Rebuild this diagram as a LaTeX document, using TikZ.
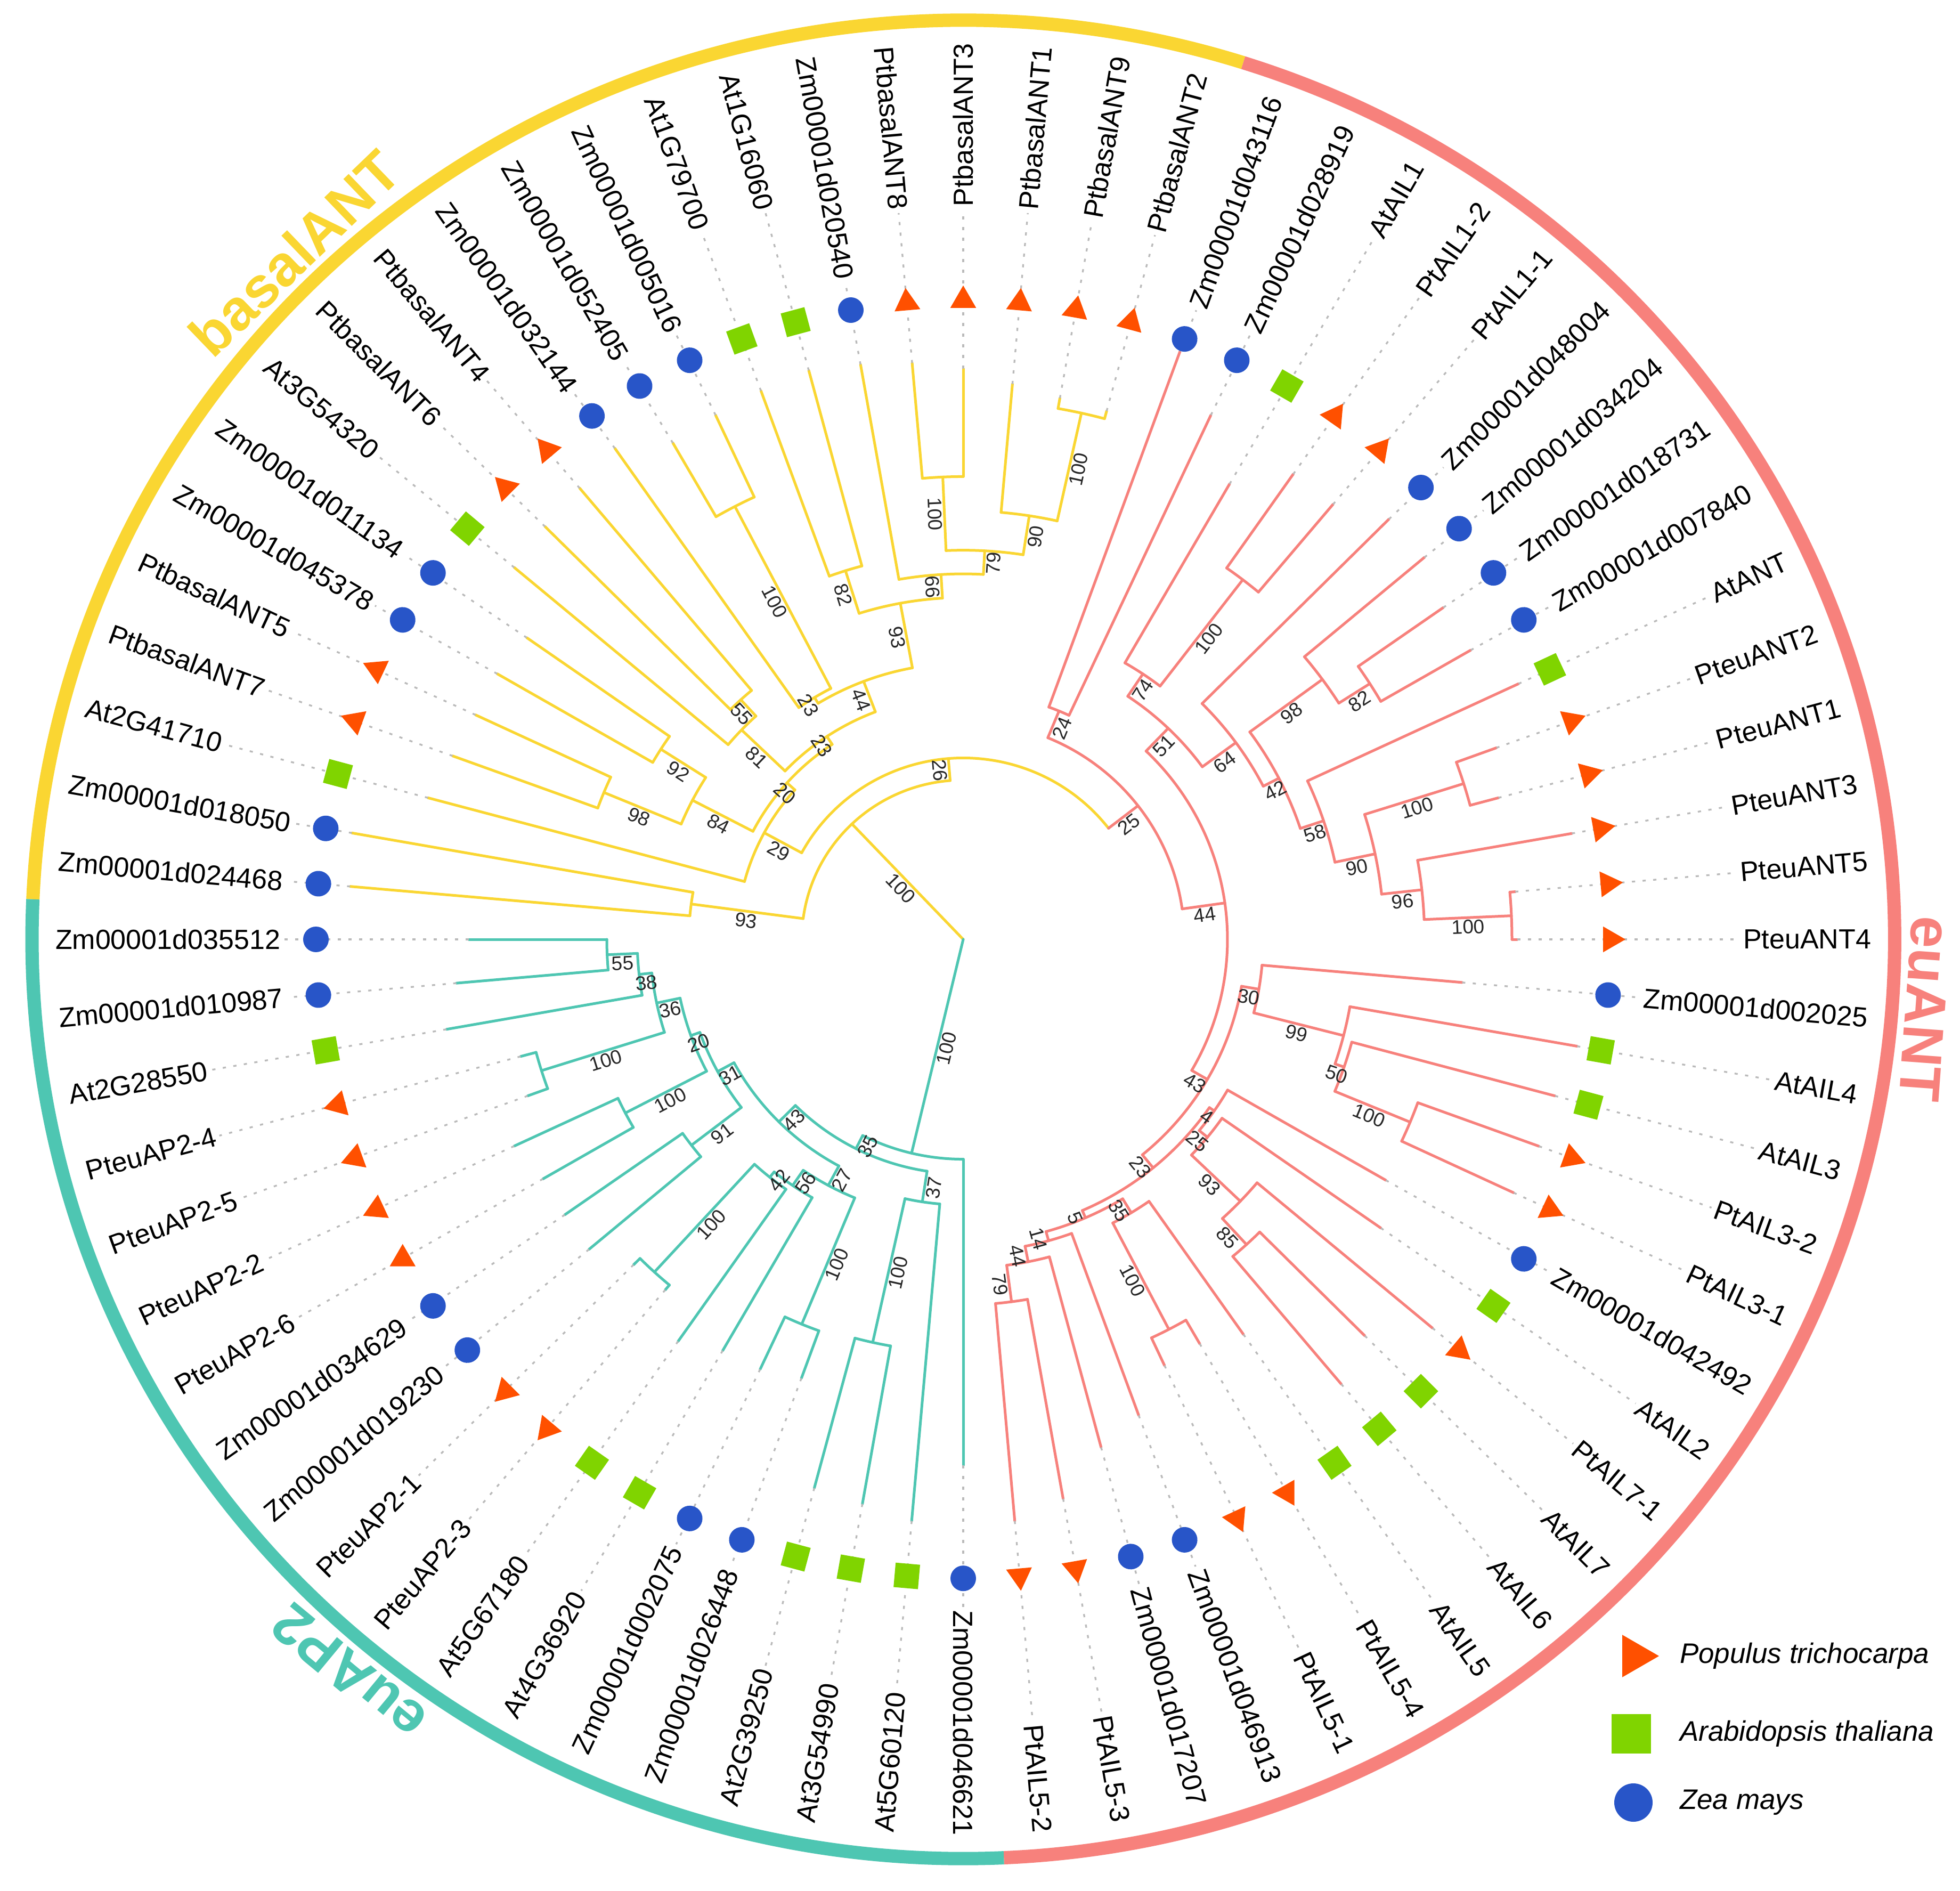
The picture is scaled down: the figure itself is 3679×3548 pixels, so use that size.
\documentclass[tikz,border=0pt]{standalone}
\usepackage{fontspec}
\setmainfont{Liberation Sans}
\usetikzlibrary{shapes.geometric}
\definecolor{yelc}{HTML}{FAD632}
\definecolor{pinc}{HTML}{F7817C}
\definecolor{tealc}{HTML}{4EC6B2}
\definecolor{popc}{HTML}{FF5000}
\definecolor{arac}{HTML}{80D400}
\definecolor{zeac}{HTML}{2855C8}
\tikzset{
  ybr/.style={draw=yelc, line width=0.5pt, line cap=round},
  rbr/.style={draw=pinc, line width=0.5pt, line cap=round},
  tbr/.style={draw=tealc, line width=0.5pt, line cap=round},
  dotl/.style={draw=black!27, line width=0.33pt, dash pattern=on 0.6pt off 1.4pt},
  lbl/.style={font=\fontsize{5.2}{6}\selectfont, inner sep=0.5pt, text=black},
  bst/.style={font=\fontsize{3.7}{4}\selectfont, inner sep=0.25pt, text=black!85},
  clad/.style={font=\fontsize{10.8}{12}\selectfont\bfseries, inner sep=0pt},
  mP/.style={regular polygon, regular polygon sides=3, fill=popc, inner sep=0pt, minimum size=5.6pt},
  mA/.style={rectangle, fill=arac, inner sep=0pt, minimum size=4.6pt},
  mZ/.style={circle, fill=zeac, inner sep=0pt, minimum size=4.8pt},
  legt/.style={font=\itshape\fontsize{5.3}{6}\selectfont, inner sep=0.5pt, anchor=west}
}
% bootstrap value: angle, r1, r2, text
\newcommand\bsv[4]{%
  \pgfmathsetmacro\Tmid{(#2+#3)/2}%
  \pgfmathtruncatemacro\Tside{((#1)>-90.5)&&((#1)<90.5)}%
  \ifnum\Tside=1 \pgfmathsetmacro\Trot{#1}\else\pgfmathsetmacro\Trot{#1+180}\fi
  \node[bst, rotate=\Trot, anchor=north] at (#1:\Tmid) {#4};%
}
% internal node: style, angle, parent r, r, arc a1, arc a2, label
\newcommand\inod[7]{%
  \draw[#1] (#2:#3) -- (#2:#4);
  \draw[#1] (#5:#4) arc[start angle=#5, end angle=#6, radius=#4];
  \bsv{#2}{#3}{#4}{#7}%
}
% leaf: index, parent r, tip r, style, marker, text
\newcommand\tleaf[6]{%
  \pgfmathsetmacro\Lang{180-5*#1}%
  \pgfmathtruncatemacro\Lside{(\Lang>-90.5)&&(\Lang<90.5)}%
  \pgfmathsetmacro\Lmk{\Lang-90}%
  \draw[#4] (\Lang:#2) -- (\Lang:#3);
  \coordinate (T#1) at (\Lang:#3);
  \ifnum\Lside=1
    \node[lbl, rotate=\Lang, anchor=east] (L#1) at (\Lang:1711) {#6};
    \draw[dotl] (T#1) -- (L#1.west);
  \else
    \pgfmathsetmacro\Lrot{\Lang+180}%
    \node[lbl, rotate=\Lrot, anchor=west] (L#1) at (\Lang:1711) {#6};
    \draw[dotl] (T#1) -- (L#1.east);
  \fi
  \node[#5, rotate=\Lmk] (M#1) at (\Lang:1215) {};
}
\begin{document}
\begin{tikzpicture}[x=0.1pt,y=0.1pt]
\useasboundingbox (0,0) rectangle (3679,3548);
\fill[white] (0,0) rectangle (3679,3548);
\begin{scope}[shift={(1808,1785)}, yscale=0.987]
% ring
\draw[line width=2.5pt, yelc] (177.5:1748) arc[start angle=177.5, end angle=72.5, radius=1748];
\draw[line width=2.5pt, pinc] (72.5:1748) arc[start angle=72.5, end angle=-87.5, radius=1748];
\draw[line width=2.5pt, tealc] (-87.5:1748) arc[start angle=-87.5, end angle=-182.5, radius=1748];
\node[clad, text=yelc, rotate=43.9, anchor=base] (cb) at (133.9:1772) {basalANT};
\node[clad, text=pinc, rotate=-94.2, anchor=base] (ce) at (-4.2:1774) {euANT};
\node[clad, text=tealc, rotate=140.4, anchor=base] (ca) at (-129.6:1772) {euAP2};
% basalANT (yellow)
\inod{ybr}{133.57}{0}{303}{172.5}{94.639}{100}
\inod{ybr}{172.5}{303}{515}{175}{170}{93}
\inod{ybr}{94.639}{303}{345}{151.514}{37.764}{26}
\inod{ybr}{151.514}{345}{425}{165}{138.027}{29}
\inod{ybr}{138.027}{425}{445}{152.5}{123.555}{20}
\inod{ybr}{152.5}{445}{573}{157.5}{147.5}{84}
\inod{ybr}{157.5}{573}{730}{160}{155}{98}
\inod{ybr}{147.5}{573}{673}{150}{145}{92}
\inod{ybr}{123.555}{445}{463}{136.25}{110.859}{23}
\inod{ybr}{136.25}{463}{576}{140}{132.5}{81}
\inod{ybr}{132.5}{576}{618}{135}{130}{55}
\inod{ybr}{110.859}{463}{525}{121.25}{100.469}{44}
\inod{ybr}{121.25}{525}{538}{125}{117.5}{23}
\inod{ybr}{117.5}{538}{928}{120}{115}{100}
\inod{ybr}{100.469}{525}{650}{107.5}{93.4375}{93}
\inod{ybr}{107.5}{650}{735}{110}{105}{82}
\inod{ybr}{93.4375}{650}{695}{100}{86.875}{66}
\inod{ybr}{86.875}{695}{740}{92.5}{81.25}{79}
\inod{ybr}{92.5}{740}{880}{95}{90}{100}
\inod{ybr}{81.25}{740}{815}{85}{77.5}{90}
\inod{ybr}{77.5}{815}{1025}{80}{75}{100}
% euANT (pink)
\inod{rbr}{37.764}{345}{415}{67.5}{8.027}{25}
\inod{rbr}{67.5}{415}{470}{70}{65}{24}
\inod{rbr}{8.027}{415}{496}{46.211}{-30.156}{44}
\inod{rbr}{46.211}{496}{556}{56.25}{36.172}{51}
\inod{rbr}{56.25}{556}{607}{60}{52.5}{74}
\inod{rbr}{52.5}{607}{862}{55}{50}{100}
\inod{rbr}{36.172}{556}{634}{45}{27.344}{64}
\inod{rbr}{27.344}{634}{667}{36.25}{18.4375}{42}
\inod{rbr}{36.25}{667}{836}{40}{32.5}{98}
\inod{rbr}{32.5}{836}{905}{35}{30}{82}
\inod{rbr}{18.4375}{667}{713}{25}{11.875}{58}
\inod{rbr}{11.875}{713}{790}{17.5}{6.25}{90}
\inod{rbr}{17.5}{790}{985}{20}{15}{100}
\inod{rbr}{6.25}{790}{866}{10}{2.5}{96}
\inod{rbr}{2.5}{866}{1030}{5}{0}{100}
\inod{rbr}{-30.156}{496}{530}{-9.6875}{-50.625}{43}
\inod{rbr}{-9.6875}{530}{563}{-5}{-14.375}{30}
\inod{rbr}{-14.375}{563}{737}{-10}{-18.75}{99}
\inod{rbr}{-18.75}{737}{755}{-15}{-22.5}{50}
\inod{rbr}{-22.5}{755}{908}{-20}{-25}{100}
\inod{rbr}{-50.625}{530}{562}{-34.6875}{-66.5625}{23}
\inod{rbr}{-34.6875}{562}{573}{-30}{-39.375}{4}
\inod{rbr}{-39.375}{573}{593}{-35}{-43.75}{25}
\inod{rbr}{-43.75}{593}{720}{-40}{-47.5}{93}
\inod{rbr}{-47.5}{720}{787}{-45}{-50}{85}
\inod{rbr}{-66.5625}{562}{577}{-58.75}{-74.375}{5}
\inod{rbr}{-58.75}{577}{608}{-55}{-62.5}{35}
\inod{rbr}{-62.5}{608}{836}{-60}{-65}{100}
\inod{rbr}{-74.375}{577}{595}{-70}{-78.75}{14}
\inod{rbr}{-78.75}{595}{625}{-75}{-82.5}{44}
\inod{rbr}{-82.5}{625}{695}{-80}{-85}{79}
% euAP2 (teal)
\inod{tbr}{-103.418}{0}{418}{-90}{-116.836}{100}
\inod{tbr}{-116.836}{418}{446}{-98.75}{-134.922}{35}
\inod{tbr}{-98.75}{446}{505}{-95}{-102.5}{37}
\inod{tbr}{-102.5}{505}{785}{-100}{-105}{100}
\inod{tbr}{-134.922}{446}{490}{-118.4375}{-151.406}{43}
\inod{tbr}{-118.4375}{490}{532}{-112.5}{-124.375}{27}
\inod{tbr}{-112.5}{532}{792}{-110}{-115}{100}
\inod{tbr}{-124.375}{532}{567}{-120}{-128.75}{56}
\inod{tbr}{-128.75}{567}{580}{-125}{-132.5}{42}
\inod{tbr}{-132.5}{580}{858}{-130}{-135}{100}
\inod{tbr}{-151.406}{490}{525}{-142.5}{-160.3125}{31}
\inod{tbr}{-142.5}{525}{643}{-140}{-145}{91}
\inod{tbr}{-160.3125}{525}{543}{-152.5}{-168.125}{20}
\inod{tbr}{-152.5}{543}{715}{-150}{-155}{100}
\inod{tbr}{-168.125}{543}{588}{-162.5}{-173.75}{36}
\inod{tbr}{-162.5}{588}{830}{-160}{-165}{100}
\inod{tbr}{-173.75}{588}{612}{-170}{-177.5}{38}
\inod{tbr}{-177.5}{612}{669}{-175}{-180}{55}
% leaves
\tleaf{1}{515}{1155}{ybr}{mZ}{Zm00001d024468}
\tleaf{2}{515}{1165}{ybr}{mZ}{Zm00001d018050}
\tleaf{3}{425}{1040}{ybr}{mA}{At2G41710}
\tleaf{4}{730}{1020}{ybr}{mP}{PtbasalANT7}
\tleaf{5}{730}{1010}{ybr}{mP}{PtbasalANT5}
\tleaf{6}{673}{1010}{ybr}{mZ}{Zm00001d045378}
\tleaf{7}{673}{1000}{ybr}{mZ}{Zm00001d011134}
\tleaf{8}{576}{1100}{ybr}{mA}{At3G54320}
\tleaf{9}{618}{1110}{ybr}{mP}{PtbasalANT6}
\tleaf{10}{618}{1120}{ybr}{mP}{PtbasalANT4}
\tleaf{11}{538}{1140}{ybr}{mZ}{Zm00001d032144}
\tleaf{12}{928}{1090}{ybr}{mZ}{Zm00001d052405}
\tleaf{13}{928}{1100}{ybr}{mZ}{Zm00001d005016}
\tleaf{14}{735}{1110}{ybr}{mA}{At1G79700}
\tleaf{15}{735}{1120}{ybr}{mA}{At1G16060}
\tleaf{16}{695}{1110}{ybr}{mZ}{Zm00001d020540}
\tleaf{17}{880}{1100}{ybr}{mP}{PtbasalANT8}
\tleaf{18}{880}{1085}{ybr}{mP}{PtbasalANT3}
\tleaf{19}{815}{1060}{ybr}{mP}{PtbasalANT1}
\tleaf{20}{1025}{1045}{ybr}{mP}{PtbasalANT9}
\tleaf{21}{1025}{1040}{ybr}{mP}{PtbasalANT2}
\tleaf{22}{470}{1190}{rbr}{mZ}{Zm00001d043116}
\tleaf{23}{470}{1100}{rbr}{mZ}{Zm00001d028919}
\tleaf{24}{607}{1000}{rbr}{mA}{AtAIL1}
\tleaf{25}{862}{1080}{rbr}{mP}{PtAIL1-2}
\tleaf{26}{862}{1080}{rbr}{mP}{PtAIL1-1}
\tleaf{27}{634}{1130}{rbr}{mZ}{Zm00001d048004}
\tleaf{28}{836}{1130}{rbr}{mZ}{Zm00001d034204}
\tleaf{29}{905}{1100}{rbr}{mZ}{Zm00001d018731}
\tleaf{30}{905}{1100}{rbr}{mZ}{Zm00001d007840}
\tleaf{31}{713}{1150}{rbr}{mA}{AtANT}
\tleaf{32}{985}{1065}{rbr}{mP}{PteuANT2}
\tleaf{33}{985}{1040}{rbr}{mP}{PteuANT1}
\tleaf{34}{866}{1160}{rbr}{mP}{PteuANT3}
\tleaf{35}{1030}{1040}{rbr}{mP}{PteuANT5}
\tleaf{36}{1030}{1040}{rbr}{mP}{PteuANT4}
\tleaf{37}{563}{940}{rbr}{mZ}{Zm00001d002025}
\tleaf{38}{737}{1170}{rbr}{mA}{AtAIL4}
\tleaf{39}{755}{1150}{rbr}{mA}{AtAIL3}
\tleaf{40}{908}{1150}{rbr}{mP}{PtAIL3-2}
\tleaf{41}{908}{1140}{rbr}{mP}{PtAIL3-1}
\tleaf{42}{573}{916}{rbr}{mZ}{Zm00001d042492}
\tleaf{43}{593}{957}{rbr}{mA}{AtAIL2}
\tleaf{44}{720}{1150}{rbr}{mP}{PtAIL7-1}
\tleaf{45}{787}{1066}{rbr}{mA}{AtAIL7}
\tleaf{46}{787}{1104}{rbr}{mA}{AtAIL6}
\tleaf{47}{608}{917}{rbr}{mA}{AtAIL5}
\tleaf{48}{836}{888}{rbr}{mP}{PtAIL5-4}
\tleaf{49}{836}{894}{rbr}{mP}{PtAIL5-1}
\tleaf{50}{595}{963}{rbr}{mZ}{Zm00001d046913}
\tleaf{51}{625}{1000}{rbr}{mZ}{Zm00001d017207}
\tleaf{52}{695}{1080}{rbr}{mP}{PtAIL5-3}
\tleaf{53}{695}{1110}{rbr}{mP}{PtAIL5-2}
\tleaf{54}{418}{1000}{tbr}{mZ}{Zm00001d046621}
\tleaf{55}{505}{1110}{tbr}{mA}{At5G60120}
\tleaf{56}{785}{1090}{tbr}{mA}{At3G54990}
\tleaf{57}{785}{1080}{tbr}{mA}{At2G39250}
\tleaf{58}{792}{888}{tbr}{mZ}{Zm00001d026448}
\tleaf{59}{792}{902}{tbr}{mZ}{Zm00001d002075}
\tleaf{60}{567}{903}{tbr}{mA}{At4G36920}
\tleaf{61}{580}{933}{tbr}{mA}{At5G67180}
\tleaf{62}{858}{870}{tbr}{mP}{PteuAP2-3}
\tleaf{63}{858}{875}{tbr}{mP}{PteuAP2-1}
\tleaf{64}{643}{917}{tbr}{mZ}{Zm00001d019230}
\tleaf{65}{643}{913}{tbr}{mZ}{Zm00001d034629}
\tleaf{66}{715}{911}{tbr}{mP}{PteuAP2-6}
\tleaf{67}{715}{930}{tbr}{mP}{PteuAP2-2}
\tleaf{68}{830}{870}{tbr}{mP}{PteuAP2-5}
\tleaf{69}{830}{860}{tbr}{mP}{PteuAP2-4}
\tleaf{70}{612}{985}{tbr}{mA}{At2G28550}
\tleaf{71}{669}{955}{tbr}{mZ}{Zm00001d010987}
\tleaf{72}{669}{928}{tbr}{mZ}{Zm00001d035512}
\end{scope}
% legend
\node[regular polygon, regular polygon sides=3, fill=popc, inner sep=0pt, minimum size=9.2pt, rotate=-90] (g1) at (3068,440) {};
\node[legt] (g1t) at (3146,440) {Populus trichocarpa};
\node[rectangle, fill=arac, inner sep=0pt, minimum size=7.4pt] (g2) at (3062,294) {};
\node[legt] (g2t) at (3146,294) {Arabidopsis thaliana};
\node[circle, fill=zeac, inner sep=0pt, minimum size=7.2pt] (g3) at (3066,165) {};
\node[legt] (g3t) at (3146,165) {Zea mays};
\end{tikzpicture}
\end{document}
